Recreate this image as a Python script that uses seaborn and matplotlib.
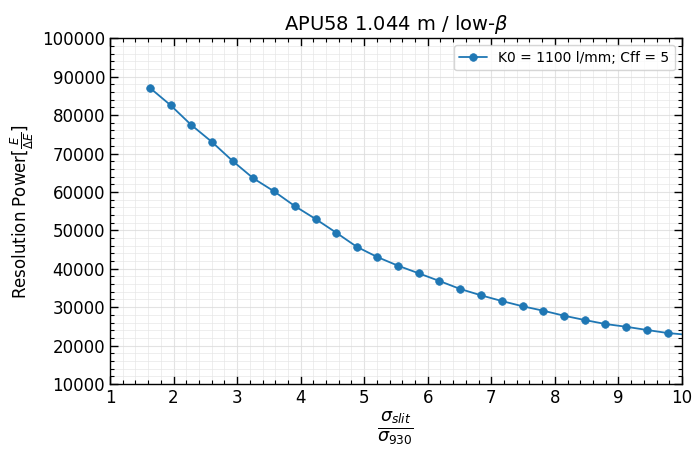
import matplotlib
matplotlib.use("Agg")
import matplotlib.pyplot as plt
import seaborn as sns
import pandas as pd
from matplotlib.ticker import AutoMinorLocator

sns.set_style("ticks", {"text.color": "black", "axes.labelcolor": "black",
                        "xtick.color": "black", "ytick.color": "black",
                        "axes.edgecolor": "black"})
plt.rcParams['font.family'] = ['DejaVu Sans']

sigma_ratio = [1.625, 1.955, 2.274, 2.605, 2.930, 3.255, 3.580, 3.906, 4.236, 4.560,
               4.881, 5.205, 5.531, 5.857, 6.184, 6.511, 6.837, 7.163, 7.493, 7.817,
               8.143, 8.468, 8.793, 9.118, 9.449, 9.774, 10.100]
resolving_power = [87140, 82560, 77510, 73000, 68060, 63550, 60170, 56340, 52950, 49390,
                   45740, 43060, 40800, 38820, 36810, 34730, 33090, 31610, 30230, 29080,
                   27780, 26660, 25620, 24910, 24060, 23270, 22780]
series_label = "K0 = 1100 l/mm; Cff = 5"

df = pd.DataFrame({"x": sigma_ratio, "y": resolving_power})

fig = plt.figure(figsize=(6.93, 4.49), dpi=100)
ax = fig.add_axes([0.1587, 0.1448, 0.8254, 0.7699])

sns.lineplot(data=df, x="x", y="y", marker="o", markersize=5.5, color="#1f77b4",
             markeredgecolor="#1f77b4", markeredgewidth=0.5, linewidth=1.3,
             label=series_label, ax=ax, sort=False)

ax.set_xlim(1, 10)
ax.set_ylim(10000, 100000)
ax.set_xticks(range(1, 11))
ax.set_yticks(range(10000, 100001, 10000))
ax.xaxis.set_minor_locator(AutoMinorLocator(5))
ax.yaxis.set_minor_locator(AutoMinorLocator(5))
ax.tick_params(which="both", direction="in", top=True, right=True, labelsize=12,
               colors="black")
ax.tick_params(which="major", length=6, width=1)
ax.tick_params(which="minor", length=3, width=0.8)
ax.grid(which="major", color="#dcdcdc", linewidth=0.8, alpha=0.8)
ax.grid(which="minor", color="#e6e6e6", linewidth=0.6, alpha=0.8)
for s in ax.spines.values():
    s.set_linewidth(1.0)
    s.set_color("black")

ax.set_title(r"APU58 1.044 m / low-$\beta$", fontsize=14, color="black")
ax.set_xlabel(r"$\frac{\sigma_{slit}}{\sigma_{930}}$", fontsize=18, labelpad=2,
              color="black")
ax.set_ylabel(r"Resolution Power[$\frac{E}{\Delta E}$]", fontsize=12, color="black")
ax.legend(loc="upper right", fontsize=10)

fig.savefig("out.png", dpi=100)
